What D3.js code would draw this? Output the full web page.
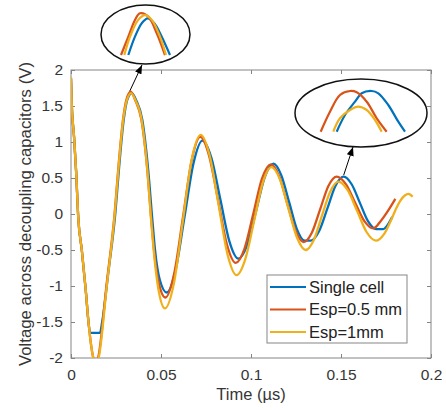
<!DOCTYPE html>
<html><head><meta charset="utf-8">
<script src="https://cdn.jsdelivr.net/npm/d3@7"></script>
<style>body{margin:0;background:#fff}</style>
</head><body>
<svg id="c" width="446" height="410"></svg>
<script>
// ---------- data ----------
const seriesNames = ["Single cell", "Esp=0.5 mm", "Esp=1mm"];
const seriesColors = ["#0072BD", "#D95319", "#F0B01C"];
const xTicks = [0, 0.05, 0.1, 0.15, 0.2];
const yTicks = [-2, -1.5, -1, -0.5, 0, 0.5, 1, 1.5, 2];
const xLabel = "Time (µs)";
const yLabel = "Voltage across decoupling capacitors (V)";

const singleCell = [[0,1.88],[0.0004,1.54],[0.0017,1.07],[0.0028,0.61],[0.0041,-0.08],[0.006,-0.5],[0.0082,-1.06],[0.0096,-1.47],[0.0106,-1.65],[0.0161,-1.65],[0.0173,-1.5],[0.0208,-0.8],[0.0246,0.0],[0.0266,0.61],[0.0293,1.31],[0.0312,1.58],[0.0338,1.68],[0.0362,1.58],[0.0396,1.31],[0.0429,0.61],[0.0452,-0.08],[0.0467,-0.5],[0.0494,-0.92],[0.0532,-1.09],[0.0581,-0.78],[0.0631,-0.035],[0.0681,0.71],[0.073,1.02],[0.078,0.78],[0.083,0.2],[0.088,-0.38],[0.093,-0.62],[0.0979,-0.43],[0.1028,0.04],[0.1076,0.51],[0.1125,0.70],[0.1168,0.54],[0.1212,0.165],[0.1255,-0.21],[0.1298,-0.37],[0.1332,-0.37],[0.1378,-0.24],[0.1424,0.075],[0.1469,0.39],[0.1515,0.52],[0.156,0.41],[0.1605,0.155],[0.165,-0.1],[0.1695,-0.21],[0.1735,-0.21],[0.1765,-0.13],[0.1785,-0.04]];
const esp05 = [[0,1.88],[0.0004,1.54],[0.0017,1.07],[0.0028,0.61],[0.0041,-0.08],[0.006,-0.5],[0.0082,-1.06],[0.0096,-1.47],[0.0124,-2.0],[0.0138,-2.08],[0.0152,-1.98],[0.0198,-0.97],[0.0242,0.0],[0.0262,0.61],[0.0289,1.31],[0.0307,1.58],[0.0332,1.70],[0.0357,1.58],[0.0391,1.31],[0.0424,0.61],[0.0446,-0.08],[0.0461,-0.5],[0.0487,-0.95],[0.0525,-1.16],[0.0573,-0.83],[0.0622,-0.045],[0.067,0.74],[0.0718,1.07],[0.0767,0.81],[0.0817,0.195],[0.0866,-0.42],[0.0915,-0.68],[0.0964,-0.48],[0.1013,0.005],[0.1061,0.49],[0.111,0.69],[0.1156,0.53],[0.1201,0.15],[0.1247,-0.23],[0.1292,-0.39],[0.1338,-0.26],[0.1384,0.065],[0.143,0.39],[0.1476,0.52],[0.1527,0.415],[0.1578,0.16],[0.1629,-0.095],[0.168,-0.2],[0.172,-0.1],[0.176,0.04],[0.1802,0.21]];
const esp1 = [[0,1.9],[0.0004,1.55],[0.0017,1.07],[0.0028,0.61],[0.0041,-0.08],[0.006,-0.5],[0.0082,-1.06],[0.0096,-1.47],[0.0124,-2.0],[0.014,-2.1],[0.0155,-1.98],[0.02,-0.97],[0.0243,0.0],[0.0263,0.61],[0.029,1.31],[0.0309,1.57],[0.0334,1.68],[0.0358,1.58],[0.0392,1.31],[0.0424,0.61],[0.0445,-0.08],[0.046,-0.52],[0.0484,-1.02],[0.0522,-1.31],[0.0572,-0.96],[0.0621,-0.105],[0.067,0.75],[0.072,1.10],[0.077,0.815],[0.082,0.125],[0.087,-0.565],[0.092,-0.85],[0.0968,-0.63],[0.1017,-0.1],[0.1065,0.43],[0.1113,0.65],[0.1161,0.48],[0.1208,0.075],[0.1256,-0.33],[0.1303,-0.5],[0.1349,-0.36],[0.1394,-0.025],[0.144,0.31],[0.1485,0.45],[0.1537,0.33],[0.159,0.04],[0.1642,-0.25],[0.1694,-0.37],[0.174,-0.275],[0.1785,-0.045],[0.1807,0.08],[0.183,0.185],[0.1856,0.26],[0.1875,0.28],[0.1898,0.24]];

// zoomed peaks shown in the two ellipses
const inset1Single = [[0.03134,1.461],[0.0322,1.563],[0.03307,1.637],[0.03385,1.665],[0.03471,1.637],[0.03567,1.563],[0.03674,1.461]];
const inset1Esp05 = [[0.03039,1.461],[0.03134,1.563],[0.0322,1.656],[0.03285,1.693],[0.03393,1.674],[0.03502,1.582],[0.03609,1.461]];
const inset1Esp1 = [[0.03082,1.461],[0.03156,1.563],[0.0326,1.655],[0.0335,1.683],[0.0344,1.655],[0.03544,1.563],[0.03622,1.461]];
const inset2Single = [[0.14667,0.3165],[0.14818,0.40],[0.15,0.4665],[0.15122,0.5085],[0.15304,0.52],[0.15424,0.5085],[0.15605,0.45],[0.15787,0.3665],[0.15909,0.3165]];
const inset2Esp05 = [[0.14376,0.3165],[0.14545,0.4165],[0.14727,0.50],[0.14909,0.52],[0.15031,0.5135],[0.15213,0.4665],[0.15395,0.3835],[0.15576,0.3165]];
const inset2Esp1 = [[0.14605,0.3165],[0.14727,0.3835],[0.14909,0.425],[0.1506,0.4415],[0.15213,0.425],[0.15364,0.375],[0.15485,0.3165]];

// ---------- layout ----------
const svg = d3.select("#c");
const L = 71, R = 431, T = 70, B = 358;
const font = "'Liberation Sans', Arial, Helvetica, sans-serif";
const axisCol = "#858585", textCol = "#363636";

const x = d3.scaleLinear().domain([0, 0.2]).range([L, R]);
const y = d3.scaleLinear().domain([-2, 2]).range([B, T]);

svg.append("defs").append("clipPath").attr("id", "plotclip")
  .append("rect").attr("x", L).attr("y", T).attr("width", R - L).attr("height", B - T);
svg.select("defs").append("marker").attr("id", "arr")
  .attr("viewBox", "0 0 10 8").attr("refX", 10).attr("refY", 4)
  .attr("markerWidth", 9).attr("markerHeight", 7).attr("markerUnits", "userSpaceOnUse")
  .attr("orient", "auto")
  .append("path").attr("d", "M0,0 L10,4 L0,8 z").attr("fill", "#000");

const fmt = d => String(d);

// axes
function styleAxis(g) {
  g.select(".domain").remove();
  g.selectAll(".tick line").attr("stroke", axisCol);
  g.selectAll(".tick text").attr("fill", textCol).style("font-family", font).style("font-size", "15.5px");
}
svg.append("g").attr("transform", `translate(0,${B})`)
  .call(d3.axisBottom(x).tickValues(xTicks).tickFormat(fmt).tickSize(-4).tickPadding(11)).call(styleAxis);
svg.append("g").attr("transform", `translate(0,${T})`)
  .call(d3.axisTop(x).tickValues(xTicks).tickFormat("").tickSize(-4)).call(styleAxis);
svg.append("g").attr("transform", `translate(${L},0)`)
  .call(d3.axisLeft(y).tickValues(yTicks).tickFormat(fmt).tickSize(-4).tickPadding(8)).call(styleAxis);
svg.append("g").attr("transform", `translate(${R},0)`)
  .call(d3.axisRight(y).tickValues(yTicks).tickFormat("").tickSize(-4)).call(styleAxis);
svg.append("rect").attr("x", L).attr("y", T).attr("width", R - L).attr("height", B - T)
  .attr("fill", "none").attr("stroke", axisCol).attr("stroke-width", 1);

// labels
svg.append("text").attr("x", (L + R) / 2).attr("y", 400).attr("text-anchor", "middle")
  .style("font-family", font).style("font-size", "16.5px").attr("fill", textCol).text(xLabel);
svg.append("text").attr("transform", `translate(31,${(T + B) / 2}) rotate(-90)`).attr("text-anchor", "middle")
  .style("font-family", font).style("font-size", "16.8px").attr("fill", textCol).text(yLabel);

// series
const line = d3.line().x(d => x(d[0])).y(d => y(d[1])).curve(d3.curveMonotoneX);
const series = [singleCell, esp05, esp1];
const gLines = svg.append("g").attr("clip-path", "url(#plotclip)");
series.forEach((s, i) => {
  gLines.append("path").attr("d", line(s)).attr("fill", "none")
    .attr("stroke", seriesColors[i]).attr("stroke-width", 2.3).attr("stroke-linejoin", "round");
});

// legend
const lg = svg.append("g");
lg.append("rect").attr("x", 267).attr("y", 275).attr("width", 140).attr("height", 68)
  .attr("fill", "#fff").attr("stroke", axisCol);
seriesNames.forEach((n, i) => {
  const yy = 287 + i * 22.5;
  lg.append("line").attr("x1", 270).attr("x2", 306).attr("y1", yy).attr("y2", yy)
    .attr("stroke", seriesColors[i]).attr("stroke-width", 2);
  lg.append("text").attr("x", 309).attr("y", yy).attr("dy", "0.36em")
    .style("font-family", font).style("font-size", "16.5px").attr("fill", "#222").text(n);
});

// insets
function inset(cx, cy, rx, ry, xd, xr, yd, yr, data) {
  svg.append("ellipse").attr("cx", cx).attr("cy", cy).attr("rx", rx).attr("ry", ry)
    .attr("fill", "#fff").attr("stroke", "#111").attr("stroke-width", 1.5);
  const ix = d3.scaleLinear().domain(xd).range(xr);
  const iy = d3.scaleLinear().domain(yd).range(yr);
  const il = d3.line().x(d => ix(d[0])).y(d => iy(d[1])).curve(d3.curveCatmullRom);
  data.forEach((s, i) => {
    svg.append("path").attr("d", il(s)).attr("fill", "none")
      .attr("stroke", seriesColors[i]).attr("stroke-width", 2.2);
  });
}
inset(145.5, 34.5, 44.5, 29.5, [0.030, 0.037], [118, 172], [1.45, 1.70], [57, 12],
  [inset1Single, inset1Esp05, inset1Esp1]);
inset(361, 113, 66, 34, [0.140, 0.160], [300, 410], [0.30, 0.55], [135, 85],
  [inset2Single, inset2Esp05, inset2Esp1]);

// arrows from main-plot peaks to ellipses
svg.append("line").attr("x1", x(0.0327)).attr("y1", y(1.71)).attr("x2", 142).attr("y2", 65)
  .attr("stroke", "#000").attr("stroke-width", 1).attr("marker-end", "url(#arr)");
svg.append("line").attr("x1", x(0.1515)).attr("y1", y(0.54)).attr("x2", 353).attr("y2", 147)
  .attr("stroke", "#000").attr("stroke-width", 1).attr("marker-end", "url(#arr)");
</script>
</body></html>
